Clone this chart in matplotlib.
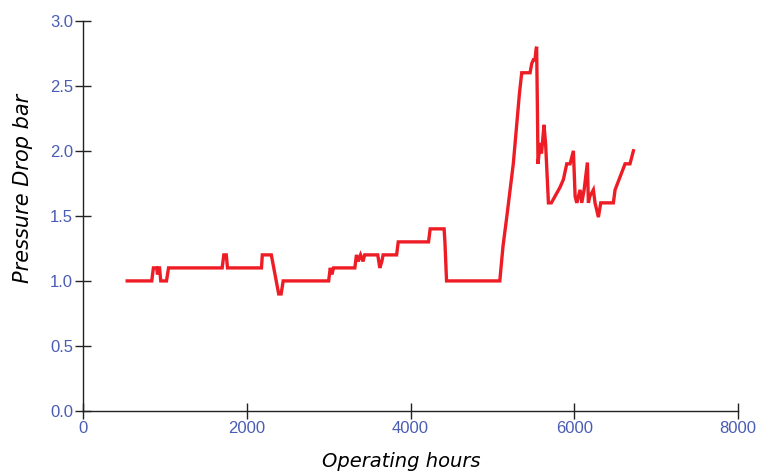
import matplotlib
matplotlib.use("Agg")
from matplotlib import pyplot as plt

# operating hours vs pressure drop (bar), read as a stepped log
hours = [540, 840, 860, 900, 910, 920, 935, 950, 1020, 1045,
         1700, 1720, 1750, 1765, 2180, 2190, 2300, 2330, 2360, 2390,
         2420, 2445, 3000, 3020, 3040, 3060, 3320, 3340, 3360, 3390,
         3420, 3440, 3600, 3625, 3650, 3665, 3830, 3850, 4220, 4240,
         4410, 4420, 4440, 5090, 5130, 5175, 5255, 5330, 5358, 5380,
         5460, 5480, 5500, 5520, 5533, 5540, 5549, 5557, 5582, 5600,
         5630, 5650, 5684, 5720, 5826, 5867, 5908, 5949, 5989, 6010,
         6030, 6071, 6091, 6120, 6160, 6172, 6190, 6233, 6253, 6294,
         6323, 6477, 6498, 6559, 6620, 6680, 6722]
pressure = [1.0, 1.0, 1.1, 1.1, 1.05, 1.1, 1.1, 1.0, 1.0, 1.1,
            1.1, 1.2, 1.2, 1.1, 1.1, 1.2, 1.2, 1.1, 1.0, 0.9,
            0.9, 1.0, 1.0, 1.1, 1.05, 1.1, 1.1, 1.2, 1.15, 1.2,
            1.15, 1.2, 1.2, 1.1, 1.15, 1.2, 1.2, 1.3, 1.3, 1.4,
            1.4, 1.3, 1.0, 1.0, 1.27, 1.49, 1.9, 2.44, 2.6, 2.6,
            2.6, 2.67, 2.7, 2.7, 2.78, 2.8, 2.35, 1.9, 2.06, 1.98,
            2.2, 2.05, 1.6, 1.6, 1.72, 1.78, 1.9, 1.9, 2.0, 1.65,
            1.6, 1.7, 1.6, 1.7, 1.91, 1.6, 1.65, 1.7, 1.6, 1.49,
            1.6, 1.6, 1.7, 1.8, 1.9, 1.9, 2.0]

x_ticks = [0, 2000, 4000, 6000, 8000]
y_ticks = [0.0, 0.5, 1.0, 1.5, 2.0, 2.5, 3.0]

tick_blue = '#4a5cb4'

fig = plt.figure(figsize=(7.57, 4.75), dpi=100)
ax = fig.add_axes([0.1096, 0.1347, 0.8654, 0.8217])

ax.plot(hours, pressure, color='#ee1c25', linewidth=2.4, solid_joinstyle='miter')

ax.set_xlim(0, 8000)
ax.set_ylim(0, 3.0)
ax.set_xticks(x_ticks)
ax.set_yticks(y_ticks)
ax.set_xticklabels([str(t) for t in x_ticks])
ax.set_yticklabels(['%.1f' % t for t in y_ticks])

for side in ['top', 'right']:
    ax.spines[side].set_visible(False)
for side in ['left', 'bottom']:
    ax.spines[side].set_color('#222222')
    ax.spines[side].set_linewidth(1.0)

ax.tick_params(direction='inout', length=12, width=1.0, color='#222222',
               labelcolor=tick_blue, labelsize=12, pad=1)
for lbl in ax.get_xticklabels() + ax.get_yticklabels():
    lbl.set_family('Liberation Sans')

ax.set_xlabel('Operating hours', fontsize=14, style='italic', family='DejaVu Sans')
ax.set_ylabel('Pressure Drop bar', fontsize=15, style='italic', family='DejaVu Sans')
ax.xaxis.set_label_coords(0.4855, -0.105)
ax.yaxis.set_label_coords(-0.076, 0.571)

fig.savefig('out.png', dpi=100)
